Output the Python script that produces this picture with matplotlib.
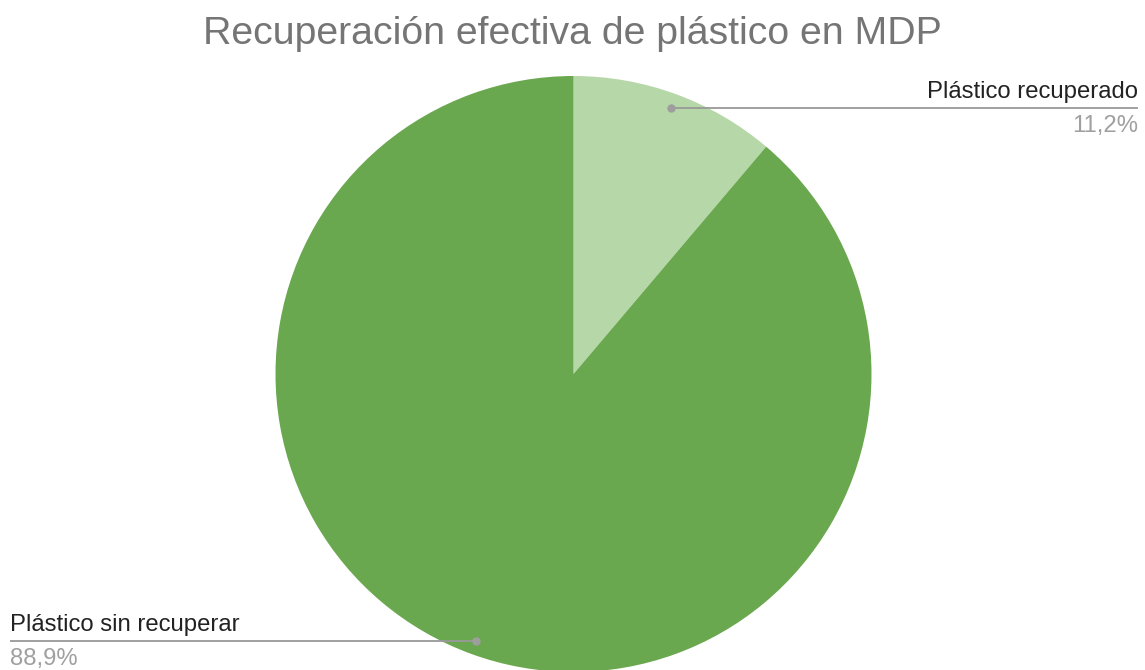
import numpy as np
import matplotlib
matplotlib.use("Agg")
import matplotlib.pyplot as plt

title = "Recuperación efectiva de plástico en MDP"
categories = ["Plástico recuperado", "Plástico sin recuperar"]
values = [11.2, 88.9]
pct_labels = ["11,2%", "88,9%"]
colors = ["#b6d7a8", "#6aa84f"]

W, H = 1145, 670
fig = plt.figure(figsize=(W / 100, H / 100), dpi=100)
ax = fig.add_axes([0, 0, 1, 1])

cx, cy, R = 573.5, H - 374, 298
wedges, _ = ax.pie(values, colors=colors, startangle=90, counterclock=False,
                   center=(cx, cy), radius=R, frame=True,
                   wedgeprops=dict(linewidth=0))
ax.set_xlim(0, W)
ax.set_ylim(0, H)
ax.set_aspect("equal")
ax.axis("off")

fig.text(0.5, 1 - 34 / H, title, ha="center", va="center",
         fontsize=28.3, color="#757575", family="Liberation Sans")

# leader lines from the middle of each wedge
line_y = [H - 108, H - 641]
text_x = [1138, 10]
for i, w in enumerate(wedges):
    mid = np.deg2rad((w.theta1 + w.theta2) / 2)
    px = cx + 0.952 * R * np.cos(mid)
    ly = line_y[i]
    tx = text_x[i]
    ax.plot([px, tx], [ly, ly], color="#999999", lw=1.3, solid_capstyle="butt")
    ax.plot([px], [ly], "o", color="#9e9e9e", ms=5)
    ha = "right" if i == 0 else "left"
    ax.text(tx, ly + 5, categories[i], ha=ha, va="bottom", fontsize=17.2,
            color="#222222", family="Liberation Sans")
    ax.text(tx, ly - 7, pct_labels[i], ha=ha, va="top", fontsize=17.2,
            color="#a0a0a0", family="Liberation Sans")

fig.savefig("out.png", dpi=100, facecolor="white")
